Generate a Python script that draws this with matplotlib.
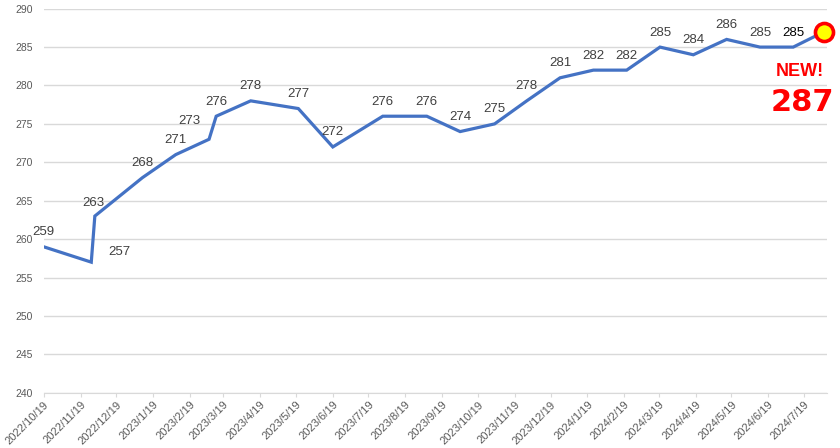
import matplotlib
matplotlib.use("Agg")
import matplotlib.pyplot as plt
import pandas as pd

dates = ["2022-10-19", "2022-11-28", "2022-12-01", "2023-01-10", "2023-02-07",
         "2023-03-07", "2023-03-13", "2023-04-11", "2023-05-21", "2023-06-19",
         "2023-07-31", "2023-09-06", "2023-10-04", "2023-11-02", "2023-11-29",
         "2023-12-27", "2024-01-24", "2024-02-21", "2024-03-20", "2024-04-17",
         "2024-05-15", "2024-06-12", "2024-07-10", "2024-08-05"]
values = [259, 257, 263, 268, 271, 273, 276, 278, 277, 272, 276, 276, 274, 275,
          278, 281, 282, 282, 285, 284, 286, 285, 285, 287]
tick_dates = pd.date_range("2022-10-01", "2024-07-01", freq="MS") + pd.Timedelta(days=18)
tick_labels = [f"{d.year}/{d.month}/{d.day}" for d in tick_dates]

x = pd.to_datetime(dates)

plt.rcParams['font.family'] = ['Liberation Sans', 'DejaVu Sans']
fig = plt.figure(figsize=(8.4, 4.48), dpi=100)
ax = fig.add_axes([0.052, 0.1234, 0.932, 0.8572])

ax.plot(x, values, color="#4472C4", lw=2.3, solid_joinstyle="miter", zorder=3)
ax.plot(x[-1:], values[-1:], marker="o", ms=13, mfc="#FFFF00", mec="#FF0000",
        mew=2.6, ls="none", zorder=4, clip_on=False)

ax.set_ylim(240, 290)
ax.set_yticks(range(240, 291, 5))
ax.set_xlim(pd.Timestamp("2022-10-19"), pd.Timestamp("2024-08-07"))
ax.set_xticks(tick_dates)
ax.set_xticklabels(tick_labels, rotation=45, ha="right", rotation_mode="anchor",
                   fontsize=8, color="#595959")
ax.tick_params(axis="x", length=3, color="#d9d9d9", pad=2)
ax.tick_params(axis="y", length=0, labelsize=7.5, labelcolor="#595959", pad=8)
ax.grid(axis="y", color="#d9d9d9", lw=1)
ax.set_axisbelow(True)
for s in ["top", "right", "left"]:
    ax.spines[s].set_visible(False)
ax.spines["bottom"].set_color("#d9d9d9")

# data labels (offsets in points)
offsets = {0: (0, 11), 1: (20, 7.5), 2: (-1, 9.5), 5: (-14, 13)}
for i, (xi, v) in enumerate(zip(x[:-1], values[:-1])):
    dx, dy = offsets.get(i, (0, 10.5))
    color = "#000000" if i == len(values) - 2 else "#404040"
    ax.annotate(str(v), (xi, v), xytext=(dx, dy), textcoords="offset points",
                ha="center", va="center", fontsize=9.5, color=color)

fig.text(0.981, 0.841, "NEW!", ha="right", va="center",
         fontsize=13, fontweight="bold", color="#FF0000")
fig.text(0.993, 0.772, str(values[-1]), ha="right", va="center",
         fontsize=22, fontweight="bold", color="#FF0000", family="DejaVu Sans")

fig.savefig("out.png", dpi=100)
